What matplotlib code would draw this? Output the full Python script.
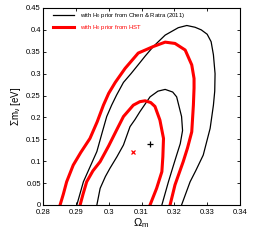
import numpy as np
import matplotlib

matplotlib.use('Agg')
import matplotlib.pyplot as plt
from matplotlib.ticker import FormatStrFormatter

plt.rcParams['font.family'] = ['Liberation Sans', 'DejaVu Sans']
plt.rcParams['mathtext.fontset'] = 'custom'
plt.rcParams['mathtext.rm'] = 'Liberation Sans'
plt.rcParams['mathtext.it'] = 'Liberation Sans:italic'

# contours: (Omega_m, sum m_nu), open at the bottom edge
chen95_om = [0.2903, 0.2923, 0.2945, 0.2964, 0.2980, 0.2994, 0.3009, 0.3024, 0.3045,
             0.3068, 0.3095, 0.3111, 0.3136, 0.3172, 0.3212, 0.3238, 0.3263, 0.3282,
             0.3300, 0.3312, 0.3319, 0.3324, 0.3323, 0.3319, 0.3309, 0.3288, 0.3265,
             0.3248, 0.3222]
chen95_mnu = [0.000, 0.053, 0.090, 0.122, 0.165, 0.202, 0.228, 0.251, 0.280,
              0.300, 0.325, 0.340, 0.362, 0.388, 0.405, 0.410, 0.406, 0.400,
              0.390, 0.373, 0.343, 0.300, 0.260, 0.228, 0.175, 0.114, 0.078,
              0.053, 0.000]

chen68_om = [0.2964, 0.2974, 0.2990, 0.3004, 0.3025, 0.3045, 0.3065, 0.3080, 0.3095,
             0.3126, 0.3150, 0.3172, 0.3195, 0.3207, 0.3222, 0.3225, 0.3218, 0.3207,
             0.3195, 0.3182, 0.3162]
chen68_mnu = [0.000, 0.038, 0.065, 0.084, 0.110, 0.137, 0.179, 0.195, 0.213,
              0.247, 0.260, 0.264, 0.258, 0.247, 0.202, 0.170, 0.140, 0.114,
              0.085, 0.053, 0.000]

hst95_om = [0.2852, 0.2862, 0.2872, 0.2892, 0.2915, 0.2943, 0.2965, 0.2984, 0.3000,
            0.3020, 0.3050, 0.3090, 0.3136, 0.3172, 0.3202, 0.3233, 0.3253, 0.3260,
            0.3260, 0.3258, 0.3253, 0.3240, 0.3227, 0.3202, 0.3187]
hst95_mnu = [0.000, 0.025, 0.053, 0.091, 0.120, 0.152, 0.190, 0.228, 0.255,
             0.280, 0.312, 0.347, 0.362, 0.372, 0.369, 0.354, 0.320, 0.289,
             0.267, 0.228, 0.167, 0.130, 0.099, 0.046, 0.000]

hst68_om = [0.2913, 0.2922, 0.2933, 0.2952, 0.2974, 0.3000, 0.3024, 0.3045, 0.3075,
            0.3095, 0.3111, 0.3128, 0.3141, 0.3156, 0.3162, 0.3167, 0.3165, 0.3162,
            0.3146, 0.3126]
hst68_mnu = [0.000, 0.025, 0.053, 0.078, 0.099, 0.135, 0.171, 0.202, 0.228,
             0.236, 0.238, 0.234, 0.225, 0.194, 0.171, 0.152, 0.110, 0.076,
             0.038, 0.000]

# best-fit points
chen_best = (0.3126, 0.139)
hst_best = (0.3075, 0.122)

xticks = [0.28, 0.29, 0.30, 0.31, 0.32, 0.33, 0.34]
yticks = [0, 0.05, 0.1, 0.15, 0.2, 0.25, 0.3, 0.35, 0.4, 0.45]

fig = plt.figure(figsize=(2.66, 2.42), dpi=100)
ax = fig.add_axes([0.1617, 0.153, 0.7406, 0.814])

ax.plot(chen95_om, chen95_mnu, color='black', lw=0.9,
        label=r'with H$_0$ prior from Chen & Ratra (2011)')
ax.plot(chen68_om, chen68_mnu, color='black', lw=0.9)
ax.plot(hst95_om, hst95_mnu, color='red', lw=2.2,
        label=r'with H$_0$ prior from HST')
ax.plot(hst68_om, hst68_mnu, color='red', lw=2.2)

ax.plot(*chen_best, marker='+', color='black', ms=5, mew=0.9)
ax.plot(*hst_best, marker='x', color='red', ms=3, mew=0.9)

ax.set_xlim(0.28, 0.34)
ax.set_ylim(0, 0.45)
ax.set_xticks(xticks)
ax.set_yticks(yticks)
ax.xaxis.set_major_formatter(FormatStrFormatter('%g'))
ax.yaxis.set_major_formatter(FormatStrFormatter('%g'))
ax.tick_params(direction='in', top=True, right=True, length=2.5, width=0.6,
               labelsize=5.5)
ax.tick_params(axis='x', pad=3)
ax.tick_params(axis='y', pad=1.5)
for s in ax.spines.values():
    s.set_linewidth(0.8)

ax.set_xlabel(r'$\Omega_\mathrm{m}$', fontsize=8, labelpad=0)
ax.set_ylabel(r'$\Sigma$m$_{\mathrm{\nu}}$ [eV]', fontsize=7, labelpad=2)

leg = ax.legend(loc='upper left', bbox_to_anchor=(0.05, 0.985), frameon=False,
                fontsize=4.3, handlelength=3.6, handletextpad=0.9, labelspacing=0.5,
                borderpad=0, borderaxespad=0, labelcolor='linecolor')

fig.savefig('out.png', dpi=100)
